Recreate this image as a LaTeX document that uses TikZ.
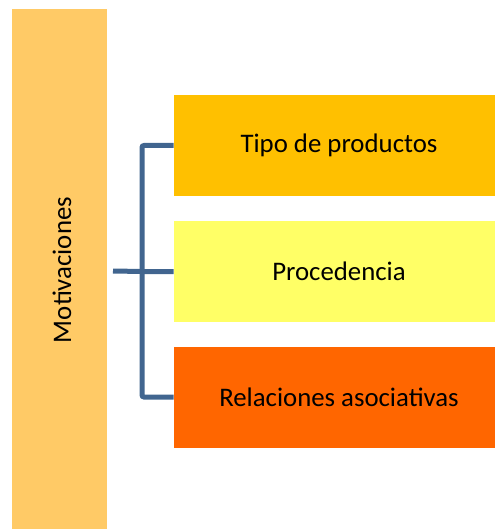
\documentclass[tikz,border=0pt]{standalone}
\usepackage{fontspec}
\setmainfont{Carlito}
\usetikzlibrary{positioning}
\definecolor{motivo}{HTML}{FFCA66}
\definecolor{tipo}{HTML}{FFC000}
\definecolor{proc}{HTML}{FFFF66}
\definecolor{rel}{HTML}{FF6600}
\definecolor{llave}{HTML}{41658F}

\begin{document}
\begin{tikzpicture}[x=0.5pt,y=-0.5pt,
    main node/.style={rectangle,fill,inner sep=0pt,font=\fontsize{13.4}{16}\selectfont,text=black},
    box node/.style={main node,minimum width=160.5pt,minimum height=50.5pt},
    label node/.style={font=\fontsize{13.4}{16}\selectfont,inner sep=0pt},
    bracket/.style={draw=llave,line width=2.5pt,rounded corners=1pt}]
   \useasboundingbox (0,0) rectangle (495,529);
   %\fill[white] (0,0) rectangle (495,529);
   \node[main node,fill=motivo,minimum width=47.5pt,minimum height=260pt] (m) at (59.5,269) {};
   \node[label node,rotate=90] at (62,270) {Motivaciones};
   \node[box node,fill=tipo] (t) at (334.5,145.5) {};
   \node[box node,fill=proc] (p) at (334.5,271.5) {};
   \node[box node,fill=rel] (r) at (334.5,397) {};
   \node[label node] at (339,145.5) {Tipo de productos};
   \node[label node] at (339,271.5) {Procedencia};
   \node[label node] at (339,397) {Relaciones asociativas};
   \coordinate (c) at (142,271);
   \coordinate (l) at (113,271);
   \path[bracket] (t.west) -| (c) |- (r.west);
   \path[bracket] (l) -- (c |- p.west) -- (p.west);
\end{tikzpicture}
\end{document}
